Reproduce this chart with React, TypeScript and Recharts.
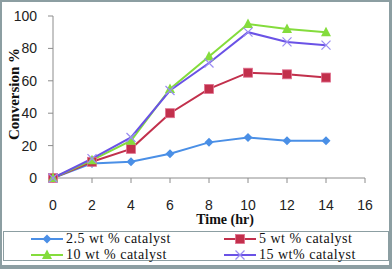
import React from 'react';
import { LineChart, Line, XAxis, YAxis, Label } from 'recharts';

const times = [0, 2, 4, 6, 8, 10, 12, 14];
const cat25 = [0, 9, 10, 15, 22, 25, 23, 23];
const cat5 = [0, 10, 18, 40, 55, 65, 64, 62];
const cat10 = [0, 11, 23, 55, 75, 95, 92, 90];
const cat15 = [0, 12, 25, 54, 71, 90, 84, 82];
const xTicks = [0, 2, 4, 6, 8, 10, 12, 14, 16];
const yTicks = [0, 20, 40, 60, 80, 100];

const data = times.map((t, i) => ({ t, a: cat25[i], b: cat5[i], c: cat10[i], d: cat15[i] }));

const COLORS = { a: '#4a8fe6', b: '#c2304c', c: '#84dc3c', d: '#6a52e6' };

// marker shapes
const Diamond = ({ cx, cy, color }: any) => (
  <polygon points={`${cx},${cy - 4.5} ${cx + 4.5},${cy} ${cx},${cy + 4.5} ${cx - 4.5},${cy}`} fill={color} />
);
const Square = ({ cx, cy, color }: any) => (
  <rect x={cx - 4.5} y={cy - 4.5} width={9} height={9} fill={color} stroke="#e07090" strokeWidth={0.8} />
);
const Triangle = ({ cx, cy, color }: any) => (
  <polygon points={`${cx},${cy - 5.5} ${cx + 5},${cy + 4} ${cx - 5},${cy + 4}`} fill={color} />
);
const Cross = ({ cx, cy }: any) => (
  <g stroke="#9a8cf2" strokeWidth={1.2}>
    <line x1={cx - 4.5} y1={cy - 4.5} x2={cx + 4.5} y2={cy + 4.5} />
    <line x1={cx - 4.5} y1={cy + 4.5} x2={cx + 4.5} y2={cy - 4.5} />
  </g>
);

const legendItems = [
  { key: 'a', name: '2.5 wt % catalyst', Shape: Diamond },
  { key: 'b', name: '5 wt % catalyst', Shape: Square },
  { key: 'c', name: '10 wt % catalyst', Shape: Triangle },
  { key: 'd', name: '15 wt% catalyst', Shape: Cross },
];

function LegendEntry({ item, left, top }: any) {
  const color = (COLORS as any)[item.key];
  const S = item.Shape;
  return (
    <div style={{ position: 'absolute', left, top, display: 'flex', alignItems: 'center', height: 16 }}>
      <svg width={34} height={16}>
        <line x1={1} y1={8} x2={33} y2={8} stroke={color} strokeWidth={2} />
        <S cx={17} cy={8} color={color} />
      </svg>
      <span style={{ fontFamily: '"Liberation Serif", serif', fontSize: 14, letterSpacing: 0.5, color: '#111', marginLeft: 2, lineHeight: '16px', whiteSpace: 'nowrap' }}>
        {item.name}
      </span>
    </div>
  );
}

const tickStyle = { fontFamily: '"Liberation Sans", sans-serif', fontSize: 14, fill: '#222' };

export default function App() {
  return (
    <div style={{ position: 'absolute', left: 0, top: 0, width: 392, height: 269, background: '#fff' }}>
      <LineChart width={392} height={269} data={data} margin={{ top: 16, right: 27, bottom: 61, left: 0 }}>
        <XAxis dataKey="t" type="number" domain={[0, 16]} ticks={xTicks} tick={tickStyle}
          tickSize={5} tickMargin={17} stroke="#8c8c8c" height={30} interval={0}>
          <Label content={() => (
            <text x={225} y={224} textAnchor="middle" style={{ fontFamily: '"Liberation Serif", serif', fontSize: 14, fontWeight: 'bold', fill: '#111' }}>
              Time  (hr)
            </text>
          )} />
        </XAxis>
        <YAxis type="number" domain={[0, 100]} ticks={yTicks} tick={tickStyle} width={53}
          tickSize={5} tickMargin={11} stroke="#8c8c8c" interval={0}>
          <Label content={() => (
            <text x={19} y={94} transform="rotate(-90 19 94)" textAnchor="middle" style={{ fontFamily: '"Liberation Serif", serif', fontSize: 15, fontWeight: 'bold', fill: '#111' }}>
              Conversion %
            </text>
          )} />
        </YAxis>
        <Line dataKey="a" stroke={COLORS.a} strokeWidth={2} isAnimationActive={false}
          dot={(p: any) => <Diamond key={p.index} cx={p.cx} cy={p.cy} color={COLORS.a} />} />
        <Line dataKey="b" stroke={COLORS.b} strokeWidth={2} isAnimationActive={false}
          dot={(p: any) => <Square key={p.index} cx={p.cx} cy={p.cy} color={COLORS.b} />} />
        <Line dataKey="c" stroke={COLORS.c} strokeWidth={2} isAnimationActive={false}
          dot={(p: any) => <Triangle key={p.index} cx={p.cx} cy={p.cy} color={COLORS.c} />} />
        <Line dataKey="d" stroke={COLORS.d} strokeWidth={2} isAnimationActive={false}
          dot={(p: any) => <Cross key={p.index} cx={p.cx} cy={p.cy} color={COLORS.d} />} />
      </LineChart>
      <div style={{ position: 'absolute', left: 3, top: 231, width: 384, height: 28, border: '1px solid #8c9ea2' }} />
      <LegendEntry item={legendItems[0]} left={30} top={231} />
      <LegendEntry item={legendItems[1]} left={223} top={231} />
      <LegendEntry item={legendItems[2]} left={30} top={247} />
      <LegendEntry item={legendItems[3]} left={223} top={247} />
      <div style={{ position: 'absolute', left: 0, top: 0, width: 392, height: 269, boxSizing: 'border-box',
        borderTop: '2px solid #8c9ea2', borderLeft: '2px solid #8c9ea2', borderRight: '3px solid #8c9ea2', borderBottom: '4px solid #8c9ea2', pointerEvents: 'none' }} />
    </div>
  );
}
